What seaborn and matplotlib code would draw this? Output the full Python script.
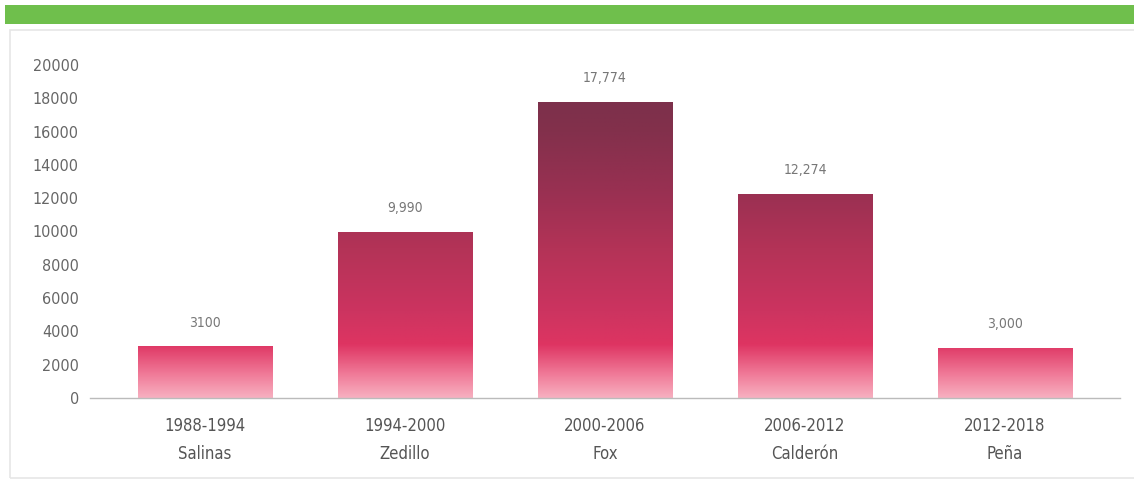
import numpy as np
import pandas as pd
import matplotlib
matplotlib.use("Agg")
import matplotlib.pyplot as plt
from matplotlib.colors import LinearSegmentedColormap
from matplotlib.patches import Rectangle
import seaborn as sns

periods = ["1988-1994", "1994-2000", "2000-2006", "2006-2012", "2012-2018"]
presidents = ["Salinas", "Zedillo", "Fox", "Calderón", "Peña"]
values = [3100, 9990, 17774, 12274, 3000]
value_labels = ["3100", "9,990", "17,774", "12,274", "3,000"]
yticks = [0, 2000, 4000, 6000, 8000, 10000, 12000, 14000, 16000, 18000, 20000]

sns.set_theme(style="white")
plt.rcParams['font.family'] = ['DejaVu Sans']
plt.rcParams['font.stretch'] = 'condensed'

df = pd.DataFrame({"cat": [f"{p}\n{n}" for p, n in zip(periods, presidents)],
                   "val": values})

fig = plt.figure(figsize=(11.34, 4.83), dpi=100)
W, H = 1134, 483
ax = fig.add_axes([90 / W, 1 - 398 / H, (1120 - 90) / W, (398 - 65) / H])

sns.barplot(data=df, x="cat", y="val", ax=ax, width=0.675, color="#d0305f",
            edgecolor="none")

# gradient fill along value axis
cmap = LinearSegmentedColormap.from_list("g", [
    (0.0, "#f7b0c0"), (0.07, "#f07a98"), (0.16, "#de3462"), (0.26, "#cc3460"),
    (0.45, "#b33357"), (0.62, "#993052"), (0.8, "#83304c"), (1.0, "#74304a")])
grad = np.linspace(0, 1, 256).reshape(-1, 1)
for p in ax.patches:
    x0, w = p.get_x(), p.get_width()
    im = ax.imshow(grad, cmap=cmap, origin="lower", aspect="auto",
                   extent=[x0, x0 + w, 0, 20000], vmin=0, vmax=1, zorder=2)
    im.set_clip_path(p)

ax.set_xlim(-0.575, 4.575)
ax.set_ylim(0, 20000)

for i, (v, lab) in enumerate(zip(values, value_labels)):
    ax.annotate(lab, (i, v), xytext=(0, 12), textcoords="offset points",
                ha="center", va="bottom", fontsize=10, color="#777777")

ax.set_yticks(yticks)
ax.set_yticklabels([str(t) for t in yticks], fontsize=11.5, color="#666666")
ax.tick_params(axis="x", labelsize=12, colors="#555555", pad=14, length=0)
ax.tick_params(axis="y", length=0, pad=8)
for lab in ax.get_xticklabels():
    lab.set_linespacing(1.7)
ax.set_xlabel("")
ax.set_ylabel("")
for s in ["top", "right", "left"]:
    ax.spines[s].set_visible(False)
ax.spines["bottom"].set_color("#bbbbbb")
ax.spines["bottom"].set_linewidth(1.0)

# decorative frame and green banner
fig.patches.append(Rectangle((10 / W, 1 - 478 / H), 1.0, (478 - 30) / H,
                             transform=fig.transFigure, facecolor="none",
                             edgecolor="#e6e6e6", linewidth=1.2, zorder=0))
fig.patches.append(Rectangle((5 / W, 1 - 24 / H), 1.0, 19 / H,
                             transform=fig.transFigure, facecolor="#6fbf4c",
                             edgecolor="none", zorder=1))

fig.savefig("out.png", dpi=100)
